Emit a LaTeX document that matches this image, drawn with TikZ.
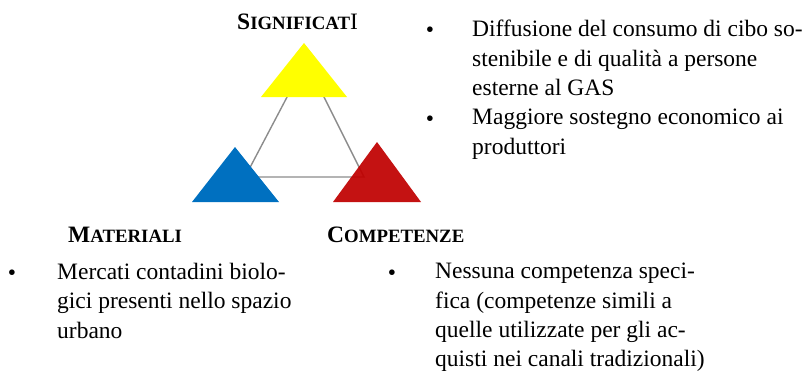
\documentclass[tikz,border=0pt]{standalone}
\usepackage{fontspec}
\setmainfont{Liberation Serif}
\usepackage{xcolor}
\definecolor{sigyellow}{HTML}{FFFF00}
\definecolor{matblue}{HTML}{0070C0}
\definecolor{compred}{HTML}{C00000}
\definecolor{linegray}{HTML}{8C8C8C}
\newcommand{\smcaps}[2]{\textbf{#1{\fontsize{18.8}{18.8}\selectfont #2}}}

\begin{document}
\begin{tikzpicture}[x=1pt, y=-1pt,
    txt/.style={inner sep=0pt, align=left, anchor=north west, font=\fontsize{23.5}{29.4}\selectfont},
    lbl/.style={inner sep=0pt, anchor=base west, font=\fontsize{23.5}{29}\selectfont},
    dot/.style={inner sep=0pt, anchor=base, font=\fontsize{23.5}{29}\selectfont}]
    \useasboundingbox (0,0) rectangle (811,373);

    % connecting triangle
    \coordinate (s) at (306,61);
    \coordinate (m) at (245,177);
    \coordinate (c) at (364,177);
    \draw[linegray, line width=1.4pt] (s) -- (m) -- (c) -- cycle;

    % coloured triangles
    \fill[sigyellow] (261,97) -- (304,43) -- (347,97) -- cycle;
    \fill[matblue] (192,202) -- (235,147) -- (279,202) -- cycle;
    \fill[compred, fill opacity=0.93] (333,202) -- (377,142) -- (421,202) -- cycle;

    % labels
    \node[lbl] (sig) at (237,29) {\smcaps{S}{IGNIFICAT}I};
    \node[lbl] (mat) at (68,242) {\smcaps{M}{ATERIALI}};
    \node[lbl] (comp) at (327,242) {\smcaps{C}{OMPETENZE}};

    % bullets
    \node[dot] (b1) at (430,37) {•};
    \node[txt] (t1) at (472,20) {Diffusione del consumo di cibo so-\\stenibile e di qualità a persone\\esterne al GAS};
    \node[dot] (b2) at (430,126) {•};
    \node[txt] (t2) at (472,109) {Maggiore sostegno economico ai\\produttori};
    \node[dot] (b3) at (12,280) {•};
    \node[txt] (t3) at (57,263) {Mercati contadini biolo-\\gici presenti nello spazio\\urbano};
    \node[dot] (b4) at (392,280) {•};
    \node[txt] (t4) at (435,263) {Nessuna competenza speci-\\fica (competenze simili a\\quelle utilizzate per gli ac-\\quisti nei canali tradizionali)};
\end{tikzpicture}
\end{document}
